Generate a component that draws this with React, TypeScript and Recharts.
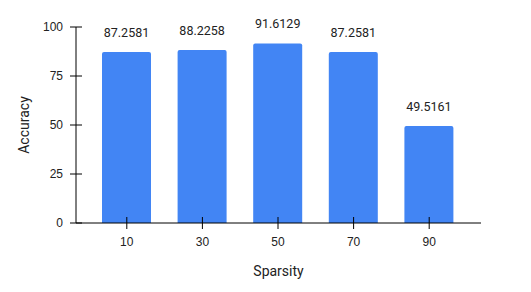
import React from 'react';
import { BarChart, Bar, XAxis, YAxis, LabelList, Label } from 'recharts';

const categories = ['10', '30', '50', '70', '90'];
const accuracy = [87.2581, 88.2258, 91.6129, 87.2581, 49.5161];
const yTicks = [0, 25, 50, 75, 100];

const data = categories.map((c, i) => ({ sparsity: c, accuracy: accuracy[i] }));

const XTick = (props: any) => {
  const { x, y, payload } = props;
  return (
    <g>
      <line x1={x} x2={x} y1={y - 6} y2={y + 6} stroke="#000" strokeWidth={1} />
      <text x={x} y={y + 23} textAnchor="middle" fontSize={12} fontFamily="Arial, 'Liberation Sans'" fill="#222">
        {payload.value}
      </text>
    </g>
  );
};

const YTick = (props: any) => {
  const { x, y, payload } = props;
  return (
    <g>
      <line x1={x - 6} x2={x + 6} y1={y} y2={y} stroke="#000" strokeWidth={1} />
      <text x={x - 13} y={y + 4} textAnchor="end" fontSize={12} fontFamily="Arial, 'Liberation Sans'" fill="#222">
        {payload.value}
      </text>
    </g>
  );
};

export default function App() {
  return (
    <div style={{ position: 'absolute', left: 0, top: 0, background: '#fff' }}>
      <BarChart
        width={531}
        height={292}
        data={data}
        margin={{ top: 27, right: 50, left: 0, bottom: 0 }}
      >
        <XAxis
          dataKey="sparsity"
          height={69}
          padding={{ left: 13, right: 14 }}
          tickLine={false}
          tickSize={0}
          tickMargin={0}
          axisLine={{ stroke: '#000', strokeWidth: 1 }}
          tick={<XTick />}
          interval={0}
        >
          <Label value="Sparsity" position="center" dy={14} fontSize={14} fontFamily="Roboto" fill="#222" />
        </XAxis>
        <YAxis
          width={76}
          domain={[0, 100]}
          ticks={yTicks}
          tickLine={false}
          tickSize={0}
          tickMargin={0}
          axisLine={{ stroke: '#000', strokeWidth: 1 }}
          tick={<YTick />}
          interval={0}
        >
          <Label value="Accuracy" position="center" angle={-90} dx={-14} fontSize={14} fontFamily="Roboto" fill="#222" />
        </YAxis>
        <Bar dataKey="accuracy" fill="#4285F4" barSize={49} radius={[2, 2, 0, 0]} isAnimationActive={false}>
          <LabelList dataKey="accuracy" position="top" offset={15} fontSize={12.5} fontFamily="Roboto" fill="#222" />
        </Bar>
      </BarChart>
    </div>
  );
}
